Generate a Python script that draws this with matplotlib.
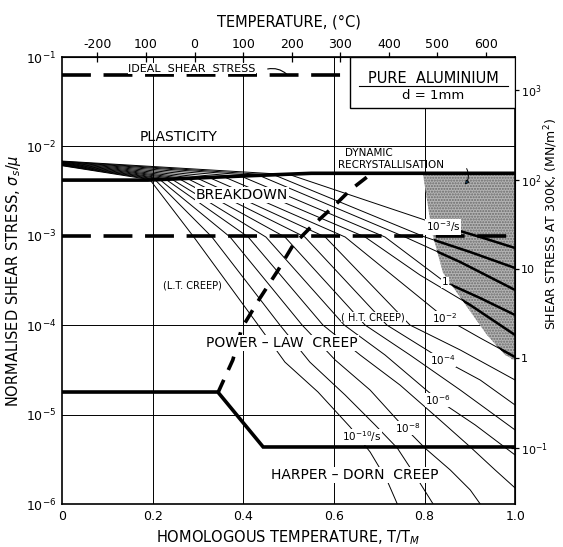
import matplotlib.pyplot as plt
import numpy as np
from matplotlib.patches import Polygon, Rectangle

# ---- data (T/TM, log10 of sigma_s/mu) ----
plast_T = [0.0, 0.19, 0.40, 0.55, 1.0]
plast_S = [-2.376, -2.376, -2.33, -2.30, -2.30]

hd_T = [0.0, 0.344, 0.444, 1.0]
hd_S = [-4.747, -4.747, -5.362, -5.362]

lt_ht_T = [0.344, 0.377, 0.397, 0.437, 0.477, 0.510, 0.547, 0.598, 0.636, 0.673]
lt_ht_S = [-4.758, -4.389, -4.031, -3.696, -3.383, -3.103, -2.913, -2.678, -2.488, -2.342]

ideal_T = [0.0, 0.636]
ideal_S = [-1.20, -1.20]
lt_break_S = -3.0

drx_T = [0.797, 0.817, 0.841, 0.894, 0.938, 0.978, 1.0, 1.0]
drx_S = [-2.32, -2.969, -3.416, -3.796, -4.110, -4.333, -4.39, -2.30]

# strain-rate contours, 1e-10 /s (first) to the top one
rate_left = [-2.215, -2.211, -2.207, -2.203, -2.199, -2.195, -2.191,
             -2.187, -2.183, -2.179, -2.175, -2.171, -2.167, -2.163]
rate_T = [
    [0.194, 0.291, 0.433, 0.492, 0.565, 0.636, 0.680, 0.717, 0.740],
    [0.205, 0.331, 0.481, 0.547, 0.625, 0.691, 0.740, 0.779, 0.819],
    [0.216, 0.371, 0.530, 0.603, 0.680, 0.740, 0.801, 0.857, 0.901, 0.923],
    [0.230, 0.411, 0.576, 0.658, 0.746, 0.834, 0.901, 0.956, 1.0],
    [0.243, 0.450, 0.623, 0.713, 0.830, 0.912, 1.0],
    [0.260, 0.492, 0.669, 0.768, 0.879, 1.0],
    [0.278, 0.536, 0.717, 0.841, 0.923, 1.0],
    [0.300, 0.581, 0.768, 0.879, 1.0],
    [0.327, 0.625, 0.845, 0.923, 1.0],
    [0.360, 0.669, 0.790, 0.901, 1.0],
    [0.397, 0.713, 0.845, 0.923, 1.0],
    [0.437, 0.757, 0.879, 1.0],
    [0.470, 0.801, 0.901, 1.0],
    [0.503, 0.702, 0.834, 0.923, 1.0],
]
rate_S = [
    [-2.37, -3.013, -3.998, -4.412, -4.747, -5.139, -5.418, -5.732, -6.0],
    [-2.37, -3.013, -3.998, -4.412, -4.781, -5.116, -5.374, -5.676, -6.0],
    [-2.37, -3.013, -3.998, -4.389, -4.725, -5.060, -5.374, -5.620, -5.843, -6.0],
    [-2.37, -3.013, -3.998, -4.333, -4.669, -5.060, -5.362, -5.620, -5.821],
    [-2.368, -3.013, -3.998, -4.333, -4.837, -5.116, -5.452],
    [-2.365, -3.013, -3.998, -4.333, -4.725, -5.172],
    [-2.362, -3.013, -3.998, -4.389, -4.613, -4.893],
    [-2.358, -3.013, -3.998, -4.277, -4.613],
    [-2.352, -3.013, -3.919, -4.143, -4.356],
    [-2.345, -3.013, -3.438, -3.774, -4.110],
    [-2.336, -3.013, -3.517, -3.696, -3.886],
    [-2.328, -3.013, -3.293, -3.606],
    [-2.322, -3.013, -3.181, -3.360],
    [-2.316, -2.655, -2.879, -3.013, -3.136],
]
rate_labels = ['10$^{-10}$/s', '10$^{-8}$', '10$^{-6}$', '10$^{-4}$', '10$^{-2}$', '1', '10$^{-3}$/s']
rate_label_T = [0.662, 0.762, 0.830, 0.841, 0.845, 0.845, 0.841]
rate_label_S = [-5.25, -5.15, -4.837, -4.389, -3.919, -3.517, -2.90]

top_ticks_C = [-200, -100, 0, 100, 200, 300, 400, 500, 600]
top_tick_labels = ['-200', '100', '0', '100', '200', '300', '400', '500', '600']
T_melt = 933.0
mu_300 = 2.35e4  # MN/m^2
right_ticks = [1e-1, 1, 10, 1e2, 1e3]
right_labels = ['10$^{-1}$', '1', '10', '10$^2$', '10$^3$']

fig = plt.figure(figsize=(5.63, 5.47), dpi=100)
ax = fig.add_axes([0.110, 0.0786, 0.805, 0.817])
ax.set_yscale('log')
ax.set_xlim(0, 1)
ax.set_ylim(1e-6, 1e-1)

def s(v):
    return 10 ** np.asarray(v)

# grid
for xv in [0.2, 0.4, 0.6, 0.8]:
    ax.axvline(xv, color='black', lw=0.7, zorder=1)
for yv in [1e-2, 1e-4, 1e-5]:
    ax.axhline(yv, color='black', lw=0.7, zorder=1)

# dynamic recrystallisation field
drx = Polygon(np.column_stack([drx_T, s(drx_S)]), closed=True, facecolor='#b4b4b4',
              edgecolor='#6a6a6a', hatch='......', lw=0, zorder=2)
ax.add_patch(drx)

# strain-rate contours
for left, tt, ss in zip(rate_left, rate_T, rate_S):
    xx = [0.0] + tt
    yy = s([left] + ss)
    ax.plot(xx, yy, color='black', lw=0.7, zorder=3)
    thick, = ax.plot(xx, yy, color='black', lw=1.8, zorder=3)
    thick.set_clip_path(drx)

# field boundaries
ax.plot(plast_T, s(plast_S), color='black', lw=2.6, zorder=4)
ax.plot(hd_T, s(hd_S), color='black', lw=2.6, zorder=4, solid_joinstyle='miter')
ax.plot(lt_ht_T, s(lt_ht_S), color='black', lw=2.6, ls=(0, (4, 3)), zorder=4)
ax.plot(ideal_T, s(ideal_S), color='black', lw=2.6, ls=(0, (8, 3.5)), zorder=4)
ax.plot([0, 1], [10 ** lt_break_S] * 2, color='black', lw=2.6, ls=(0, (8, 3.5)), zorder=4)

# material box
ax.add_patch(Rectangle((0.636, 10 ** -1.57), 0.364, 1e-1 - 10 ** -1.57, facecolor='white',
                       edgecolor='black', lw=1.0, zorder=5))
ax.text(0.819, 10 ** -1.235, 'PURE  ALUMINIUM', ha='center', va='center', fontsize=10.5, zorder=6)
ax.plot([0.655, 0.985], [10 ** -1.32] * 2, color='black', lw=0.8, zorder=6)
ax.text(0.819, 10 ** -1.43, 'd = 1mm', ha='center', va='center', fontsize=9.5, zorder=6)

# field labels
kw = dict(ha='center', va='center', fontsize=10, zorder=6)
ax.text(0.258, 10 ** -1.895, 'PLASTICITY', **kw)
ax.text(0.397, 10 ** -2.544, 'BREAKDOWN', bbox=dict(fc='white', ec='none', pad=0.5), **kw)
ax.text(0.287, 10 ** -1.13, 'IDEAL  SHEAR  STRESS', ha='center', va='center', fontsize=8,
        bbox=dict(fc='white', ec='none', pad=0.3), zorder=6)
ax.annotate('', xy=(0.50, 10 ** -1.21), xytext=(0.448, 10 ** -1.14),
            arrowprops=dict(arrowstyle='-', lw=0.8, connectionstyle='arc3,rad=-0.3'), zorder=6)
ax.text(0.625, 10 ** -2.07, 'DYNAMIC', ha='left', va='center', fontsize=7.5, zorder=6)
ax.text(0.610, 10 ** -2.205, 'RECRYSTALLISATION', ha='left', va='center', fontsize=7.5, zorder=6)
ax.annotate('', xy=(0.885, 10 ** -2.45), xytext=(0.89, 10 ** -2.22),
            arrowprops=dict(arrowstyle='-|>', lw=0.7, mutation_scale=6,
                            connectionstyle='arc3,rad=-0.4'), zorder=6)
ax.text(0.289, 10 ** -3.55, '(L.T. CREEP)', ha='center', va='center', fontsize=7,
        bbox=dict(fc='white', ec='none', pad=0.3), zorder=6)
ax.text(0.687, 10 ** -3.908, '( H.T. CREEP)', ha='center', va='center', fontsize=7,
        bbox=dict(fc='white', ec='none', pad=0.3), zorder=6)
ax.text(0.486, 10 ** -4.20, 'POWER – LAW  CREEP', bbox=dict(fc='white', ec='none', pad=0.5), **kw)
ax.text(0.647, 10 ** -5.676, 'HARPER – DORN  CREEP', bbox=dict(fc='white', ec='none', pad=0.5), **kw)

for lab, tx, sy in zip(rate_labels, rate_label_T, rate_label_S):
    ax.text(tx, 10 ** sy, lab, ha='center', va='center', fontsize=7.5,
            bbox=dict(fc='white', ec='none', pad=0.4), zorder=6)

# axes: left / bottom
ax.set_xticks([0, 0.2, 0.4, 0.6, 0.8, 1.0])
ax.set_xticklabels(['0', '0.2', '0.4', '0.6', '0.8', '1.0'])
ax.set_yticks([1e-6, 1e-5, 1e-4, 1e-3, 1e-2, 1e-1])
ax.set_yticklabels(['10$^{-6}$', '10$^{-5}$', '10$^{-4}$', '10$^{-3}$', '10$^{-2}$', '10$^{-1}$'])
ax.yaxis.set_minor_locator(plt.NullLocator())
ax.tick_params(axis='both', length=0, labelsize=9, pad=4)
ax.set_xlabel('HOMOLOGOUS TEMPERATURE, T/T$_M$', fontsize=10.5, labelpad=4)
ax.set_ylabel('NORMALISED SHEAR STRESS, $\\sigma_s/\\mu$', fontsize=10.5, labelpad=2)
for sp in ax.spines.values():
    sp.set_linewidth(1.2)

# top axis in deg C
top = ax.secondary_xaxis('top', functions=(lambda t: t * T_melt - 273.0,
                                           lambda c: (c + 273.0) / T_melt))
top.set_xticks(top_ticks_C)
top.set_xticklabels(top_tick_labels)
top.tick_params(direction='inout', length=7, width=0.9, labelsize=9, pad=1)
top.set_xlabel('TEMPERATURE, (°C)', fontsize=10.5, labelpad=8)

# right axis: shear stress at 300 K
right = ax.secondary_yaxis('right', functions=(lambda v: v * mu_300, lambda v: v / mu_300))
right.set_yticks(right_ticks)
right.set_yticklabels(right_labels)
right.yaxis.set_minor_locator(plt.NullLocator())
right.tick_params(direction='inout', length=6, width=0.9, labelsize=8, pad=1)
fig.text(0.979, 0.59, 'SHEAR STRESS AT 300K, (MN/m$^2$)', rotation=90,
         ha='center', va='center', fontsize=9)

fig.savefig('out.png', dpi=100)
